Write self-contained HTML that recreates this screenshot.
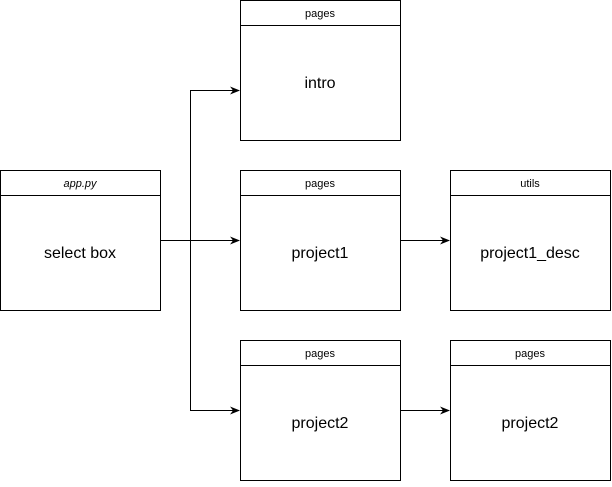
<!DOCTYPE html><html><head><style>body{margin:0;background:#fff}</style></head><body>
<svg width="612" height="482" xmlns="http://www.w3.org/2000/svg" font-family="Liberation Sans, Helvetica, sans-serif">
<defs><marker id="a" markerWidth="10" markerHeight="8" refX="9" refY="4" orient="auto" markerUnits="userSpaceOnUse"><path d="M0,0 L10,4 L0,8 L3,4 z" fill="#000"/></marker></defs>
<g fill="#fff" stroke="#000" stroke-width="1">
<rect x="0.5" y="170.5" width="160" height="140"/><line x1="0" y1="195.5" x2="161" y2="195.5"/>
<rect x="240.5" y="0.5" width="160" height="140"/><line x1="240" y1="25.5" x2="401" y2="25.5"/>
<rect x="240.5" y="170.5" width="160" height="140"/><line x1="240" y1="195.5" x2="401" y2="195.5"/>
<rect x="450.5" y="170.5" width="160" height="140"/><line x1="450" y1="195.5" x2="611" y2="195.5"/>
<rect x="240.5" y="340.5" width="160" height="140"/><line x1="240" y1="365.5" x2="401" y2="365.5"/>
<rect x="450.5" y="340.5" width="160" height="140"/><line x1="450" y1="365.5" x2="611" y2="365.5"/>
</g>
<g fill="none" stroke="#000" stroke-width="1">
<path d="M160,240.5 H239" marker-end="url(#a)"/>
<path d="M190.5,240 V90.5 H239" marker-end="url(#a)"/>
<path d="M190.5,240 V410.5 H239" marker-end="url(#a)"/>
<path d="M400,240.5 H449" marker-end="url(#a)"/>
<path d="M400,410.5 H449" marker-end="url(#a)"/>
</g>
<g text-anchor="middle" font-size="11">
<text x="80" y="187" font-style="italic">app.py</text>
<text x="320" y="17">pages</text>
<text x="320" y="187">pages</text>
<text x="530" y="187">utils</text>
<text x="320" y="357">pages</text>
<text x="530" y="357">pages</text>
</g>
<g text-anchor="middle" font-size="16">
<text x="80" y="258">select box</text>
<text x="320" y="88">intro</text>
<text x="320" y="258">project1</text>
<text x="530" y="258">project1_desc</text>
<text x="320" y="428">project2</text>
<text x="530" y="428">project2</text>
</g>
</svg></body></html>
